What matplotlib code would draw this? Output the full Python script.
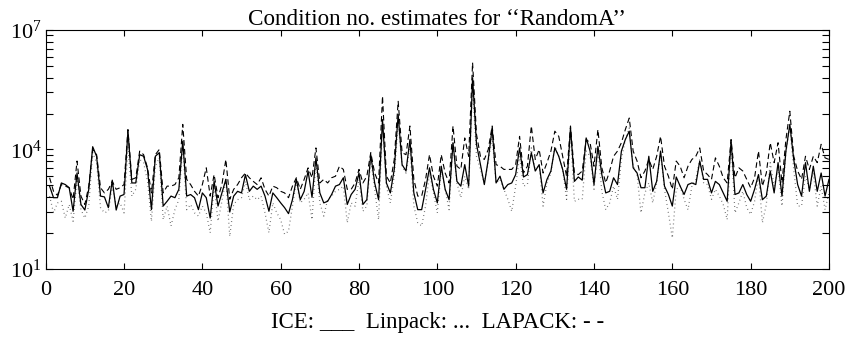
import numpy as np
import matplotlib
matplotlib.use("Agg")
import matplotlib.pyplot as plt
from matplotlib.ticker import FixedLocator, NullFormatter

plt.rcParams['font.family'] = ['Liberation Serif', 'DejaVu Serif']
plt.rcParams['mathtext.fontset'] = 'custom'
plt.rcParams['mathtext.rm'] = 'Liberation Serif'
plt.rcParams['mathtext.it'] = 'Liberation Serif:italic'

# log10 of condition number estimates, matrices 1..200
ice_log10 = [
 3.08, 2.79, 2.79, 3.16, 3.12, 3.04, 2.45, 3.41, 2.62, 2.48,
 3.00, 4.07, 3.83, 2.83, 2.81, 2.54, 3.23, 2.48, 2.83, 2.87,
 4.46, 3.16, 3.16, 3.87, 3.83, 3.50, 2.49, 3.83, 3.92, 2.58,
 2.70, 2.83, 2.79, 3.00, 4.21, 2.83, 2.87, 2.79, 2.49, 2.91,
 2.79, 2.28, 3.20, 2.58, 2.91, 3.25, 2.43, 2.83, 2.95, 2.91,
 3.37, 2.95, 3.08, 3.00, 3.08, 2.83, 2.45, 2.91, 2.79, 2.66,
 2.54, 2.39, 2.74, 3.25, 2.74, 2.95, 3.46, 2.80, 3.79, 2.91,
 2.66, 2.70, 2.87, 3.08, 3.12, 3.29, 2.62, 2.87, 3.00, 3.41,
 2.62, 2.74, 3.87, 3.16, 2.74, 4.75, 3.16, 2.91, 3.50, 4.88,
 3.62, 3.46, 4.25, 2.91, 2.49, 2.49, 3.00, 3.54, 3.00, 2.66,
 3.58, 3.00, 2.74, 4.17, 3.20, 3.08, 3.62, 3.08, 5.80, 4.13,
 3.62, 3.12, 3.75, 4.54, 3.16, 3.33, 3.00, 3.12, 3.16, 3.37,
 4.04, 3.31, 3.37, 3.92, 3.46, 3.62, 2.91, 3.25, 3.46, 4.04,
 3.83, 3.50, 3.00, 4.54, 3.20, 3.31, 3.23, 4.29, 3.96, 3.12,
 4.08, 3.37, 2.91, 2.95, 3.29, 3.12, 3.96, 4.25, 4.46, 3.54,
 3.41, 3.04, 3.04, 3.83, 2.95, 3.20, 3.96, 3.08, 2.87, 2.58,
 3.31, 3.08, 2.87, 3.12, 3.16, 3.12, 3.71, 3.25, 3.25, 2.91,
 3.20, 3.12, 2.91, 2.70, 4.21, 2.87, 2.91, 3.12, 2.87, 2.70,
 3.00, 3.37, 2.74, 2.83, 3.46, 2.91, 3.67, 2.83, 3.96, 4.63,
 3.75, 3.12, 2.83, 3.67, 2.95, 3.58, 2.95, 3.41, 2.83, 3.25,
]

linpack_log10 = [
 2.83, 2.41, 2.66, 2.70, 2.28, 2.62, 2.20, 3.25, 2.49, 2.28,
 2.58, 3.92, 3.67, 2.54, 2.41, 2.45, 3.08, 2.58, 2.66, 2.41,
 4.08, 2.83, 3.00, 3.75, 3.67, 3.20, 2.20, 3.58, 3.79, 2.24,
 2.58, 2.08, 2.49, 2.74, 4.08, 2.49, 2.62, 2.41, 2.33, 2.58,
 2.41, 1.91, 3.08, 2.20, 2.70, 3.25, 1.82, 2.62, 2.74, 2.79,
 3.20, 2.74, 2.83, 2.74, 2.83, 2.41, 1.91, 2.66, 2.41, 2.24,
 1.87, 1.95, 2.58, 3.20, 2.66, 2.75, 2.91, 2.24, 3.71, 2.66,
 2.33, 2.75, 2.83, 2.95, 3.00, 3.08, 2.16, 2.66, 2.58, 3.25,
 2.45, 2.58, 3.75, 3.00, 2.24, 4.59, 3.08, 2.66, 3.33, 4.67,
 3.58, 3.41, 4.08, 2.58, 2.16, 2.08, 2.58, 3.41, 2.91, 2.41,
 3.50, 3.00, 2.49, 4.17, 3.16, 2.79, 3.33, 3.00, 5.59, 3.83,
 3.50, 3.16, 3.67, 4.33, 3.16, 3.25, 3.00, 2.75, 2.45, 3.08,
 3.83, 3.08, 3.12, 4.04, 3.46, 3.62, 2.58, 3.16, 3.41, 4.08,
 3.83, 3.50, 2.75, 4.42, 2.70, 2.75, 2.75, 3.96, 3.83, 3.00,
 4.00, 2.95, 2.49, 2.66, 3.08, 2.75, 3.75, 4.25, 4.54, 3.58,
 3.37, 2.41, 2.91, 3.16, 2.66, 3.16, 3.92, 3.00, 2.41, 1.78,
 3.00, 3.08, 2.75, 2.49, 3.08, 3.25, 3.75, 3.16, 3.12, 2.75,
 3.00, 2.83, 2.62, 2.24, 4.17, 2.41, 2.66, 2.95, 2.54, 2.37,
 2.70, 3.37, 2.16, 2.62, 3.67, 3.08, 3.50, 2.58, 3.92, 4.59,
 3.50, 2.58, 2.58, 3.33, 3.00, 3.41, 2.58, 3.08, 2.49, 2.91,
]

lapack_log10 = [
 3.29, 2.95, 2.85, 3.12, 3.08, 3.04, 2.75, 3.71, 2.83, 2.62,
 3.08, 4.00, 3.87, 3.04, 2.91, 3.00, 3.20, 3.00, 3.04, 3.12,
 4.50, 3.25, 3.29, 3.96, 3.87, 3.54, 2.91, 3.87, 4.00, 2.91,
 3.08, 3.08, 3.12, 3.29, 4.63, 3.25, 3.12, 2.95, 2.83, 3.12,
 3.54, 2.83, 3.37, 2.79, 3.12, 3.75, 2.75, 3.00, 3.12, 3.29,
 3.41, 3.29, 3.20, 3.12, 3.29, 3.00, 2.83, 3.08, 3.04, 2.95,
 2.91, 2.79, 3.08, 3.29, 3.00, 3.25, 3.54, 3.29, 4.04, 3.16,
 3.25, 3.16, 3.29, 3.33, 3.58, 3.50, 3.00, 3.00, 3.16, 3.50,
 3.16, 3.33, 3.92, 3.41, 3.16, 5.34, 3.33, 3.16, 3.75, 5.21,
 3.92, 3.87, 4.59, 3.25, 2.83, 2.83, 3.25, 3.87, 3.33, 3.08,
 3.87, 3.41, 3.16, 4.59, 3.58, 3.50, 4.29, 3.83, 6.18, 4.38,
 3.83, 3.75, 4.00, 4.59, 3.62, 3.58, 3.50, 3.50, 3.50, 3.62,
 4.33, 3.41, 3.58, 4.59, 3.75, 4.00, 3.41, 3.67, 3.96, 4.46,
 4.33, 3.83, 3.33, 4.59, 3.41, 3.37, 3.46, 4.25, 4.17, 3.58,
 4.50, 3.54, 3.16, 3.46, 3.83, 3.96, 4.17, 4.50, 4.79, 3.96,
 3.71, 3.29, 3.46, 3.75, 3.50, 3.83, 4.33, 3.58, 3.33, 3.00,
 3.71, 3.58, 3.29, 3.58, 3.75, 3.83, 4.04, 3.46, 3.37, 3.25,
 3.79, 3.58, 3.29, 3.16, 4.25, 3.29, 3.54, 3.46, 3.25, 3.04,
 3.29, 3.96, 3.08, 3.41, 4.17, 3.67, 4.17, 3.16, 4.25, 4.96,
 3.83, 3.46, 3.25, 3.83, 3.50, 3.83, 3.67, 4.13, 3.79, 3.75,
]

matrix_no = np.arange(1, 201)
ice = 10.0 ** np.array(ice_log10)
linpack = 10.0 ** np.array(linpack_log10)
lapack = 10.0 ** np.array(lapack_log10)

x_ticks = [0, 20, 40, 60, 80, 100, 120, 140, 160, 180, 200]
y_major = [1e1, 1e4, 1e7]
y_labels = [r'$10^{1}$', r'$10^{4}$', r'$10^{7}$']
title = 'Condition no. estimates for \u2018\u2018RandomA\u2019\u2019'
xlabel = 'ICE: ___  Linpack: ...  LAPACK: - -'

fig = plt.figure(figsize=(8.54, 3.39), dpi=100)
ax = fig.add_axes([0.0535, 0.2065, 0.9172, 0.705])

ax.plot(matrix_no, linpack, color='#555555', lw=0.9, linestyle=(0, (0.6, 2.6)))
ax.plot(matrix_no, lapack, color='black', lw=0.8, linestyle=(0, (5, 3)))
ax.plot(matrix_no, ice, color='black', lw=0.9, linestyle='-')

ax.set_yscale('log')
ax.set_xlim(0, 200)
ax.set_ylim(1e1, 1e7)
ax.set_xticks(x_ticks)
ax.set_xticklabels([str(t) for t in x_ticks])
ax.yaxis.set_major_locator(FixedLocator(y_major))
ax.set_yticklabels(y_labels)
minor = [10 * k ** 3 for k in range(2, 10)] + [1e4 * k ** 3 for k in range(2, 10)]
ax.yaxis.set_minor_locator(FixedLocator(minor))
ax.yaxis.set_minor_formatter(NullFormatter())

ax.tick_params(axis='both', which='both', direction='in', top=True, right=True,
               labelsize=16, width=0.8, colors='black')
ax.tick_params(axis='x', which='major', length=4, pad=9)
ax.tick_params(axis='y', which='major', length=5, pad=3)
ax.tick_params(axis='y', which='minor', length=5)
for s in ax.spines.values():
    s.set_linewidth(0.8)

ax.set_title(title, fontsize=16.7, pad=3)
ax.set_xlabel(xlabel, fontsize=16.5, labelpad=8)

fig.savefig('out.png', dpi=100)
